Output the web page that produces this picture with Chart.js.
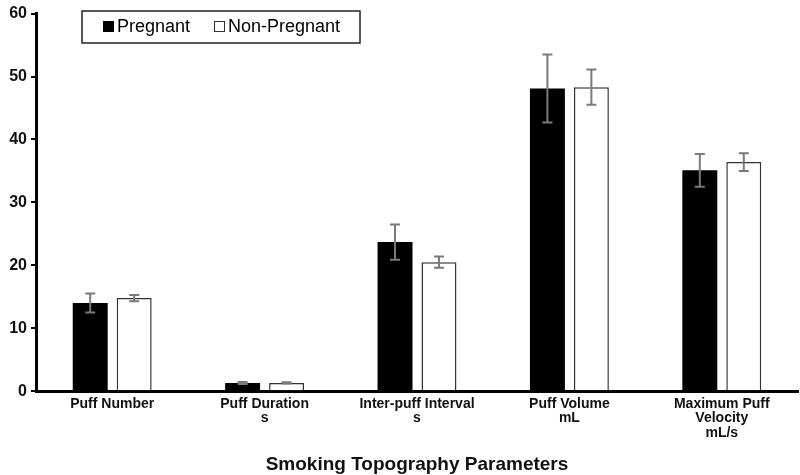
<!DOCTYPE html>
<html>
<head>
<meta charset="utf-8">
<script src="https://cdn.jsdelivr.net/npm/chart.js@4"></script>
<style>
  html, body { margin: 0; padding: 0; background: #fff; }
  #wrap { width: 800px; height: 475px; position: relative; }
</style>
</head>
<body>
<div id="wrap"><canvas id="chart" width="800" height="475"></canvas></div>
<script>
// Data
const categories = [
    ["Puff Number"],
    ["Puff Duration", "s"],
    ["Inter-puff Interval", "s"],
    ["Puff Volume", "mL"],
    ["Maximum Puff", "Velocity", "mL/s"]
];
const pregnant = [14.0, 1.3, 23.7, 48.1, 35.1];
const pregnantErr = [1.5, 0.15, 2.8, 5.4, 2.6];
const nonPregnant = [14.8, 1.3, 20.5, 48.3, 36.4];
const nonPregnantErr = [0.5, 0.1, 0.9, 2.8, 1.4];
const yTicks = [0, 10, 20, 30, 40, 50, 60];

const errors = [pregnantErr, nonPregnantErr];

// Error bars drawn through the y scale
const errorBars = {
    id: "errorBars",
    afterDatasetsDraw(chart) {
        const ctx = chart.ctx;
        const y = chart.scales.y;
        ctx.save();
        ctx.strokeStyle = "#7a7a7a";
        ctx.lineWidth = 2;
        chart.data.datasets.forEach((ds, i) => {
            const meta = chart.getDatasetMeta(i);
            meta.data.forEach((bar, j) => {
                const v = ds.data[j];
                const e = errors[i][j];
                const top = y.getPixelForValue(v + e);
                const bottom = y.getPixelForValue(v - e);
                ctx.beginPath();
                ctx.moveTo(bar.x, top);
                ctx.lineTo(bar.x, bottom);
                ctx.moveTo(bar.x - 5, top);
                ctx.lineTo(bar.x + 5, top);
                ctx.moveTo(bar.x - 5, bottom);
                ctx.lineTo(bar.x + 5, bottom);
                ctx.stroke();
            });
        });
        ctx.restore();
    }
};

// Boxed legend inside the plot area
const boxLegend = {
    id: "boxLegend",
    afterDraw(chart) {
        const ctx = chart.ctx;
        ctx.save();
        ctx.fillStyle = "#fff";
        ctx.fillRect(82, 11, 278, 32);
        ctx.strokeStyle = "#222";
        ctx.lineWidth = 1.5;
        ctx.strokeRect(82, 11, 278, 32);
        ctx.font = "18px 'Liberation Sans', Arial, sans-serif";
        ctx.textBaseline = "middle";
        ctx.fillStyle = "#000";
        ctx.fillRect(103, 21, 11, 11);
        ctx.fillText(chart.data.datasets[0].label, 117, 27);
        ctx.fillStyle = "#fff";
        ctx.fillRect(214, 21, 11, 11);
        ctx.strokeStyle = "#333";
        ctx.lineWidth = 1;
        ctx.strokeRect(214.5, 21.5, 10, 10);
        ctx.fillStyle = "#000";
        ctx.fillText(chart.data.datasets[1].label, 228, 27);
        ctx.restore();
    }
};

new Chart(document.getElementById("chart"), {
    type: "bar",
    data: {
        labels: categories,
        datasets: [
            {
                label: "Pregnant",
                data: pregnant,
                backgroundColor: "#000",
                borderColor: "#000",
                borderWidth: 0
            },
            {
                label: "Non-Pregnant",
                data: nonPregnant,
                backgroundColor: "#fff",
                borderColor: "#333",
                borderWidth: 1.5
            }
        ]
    },
    options: {
        responsive: false,
        animation: false,
        categoryPercentage: 0.577,
        barPercentage: 0.795,
        layout: { padding: { top: 10, right: 2, left: 0, bottom: 0 } },
        plugins: {
            legend: { display: false },
            tooltip: { enabled: false }
        },
        scales: {
            x: {
                grid: { display: false, drawTicks: false },
                border: { color: "#000", width: 3 },
                ticks: {
                    color: "#111",
                    padding: 5,
                    maxRotation: 0,
                    autoSkip: false,
                    font: { family: "'Liberation Sans Narrow', 'Liberation Sans', Arial", size: 14, weight: "bold", lineHeight: 1.07 }
                },
                title: {
                    display: true,
                    text: "Smoking Topography Parameters",
                    color: "#111",
                    padding: { top: 8, bottom: 0 },
                    font: { family: "'Liberation Sans Narrow', 'Liberation Sans', Arial", size: 19, weight: "bold", lineHeight: 1.1 }
                }
            },
            y: {
                min: 0,
                max: 60,
                afterFit: (s) => { s.width = 36; },
                afterBuildTicks: (s) => { s.ticks = yTicks.map(v => ({ value: v })); },
                grid: {
                    display: true,
                    drawOnChartArea: false,
                    drawTicks: true,
                    tickLength: 5,
                    color: "#000",
                    lineWidth: 2
                },
                border: { color: "#000", width: 3 },
                ticks: {
                    color: "#111",
                    padding: 4,
                    font: { family: "'Liberation Sans', Arial", size: 16, weight: "bold" }
                }
            }
        }
    },
    plugins: [errorBars, boxLegend]
});
</script>
</body>
</html>
